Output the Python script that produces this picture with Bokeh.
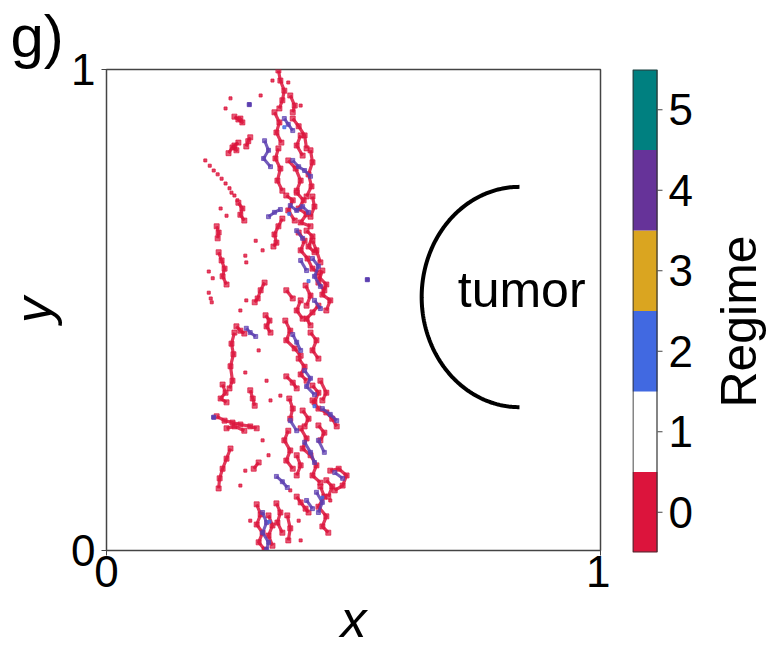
import numpy as np
from bokeh.plotting import figure
from bokeh.layouts import row
from bokeh.models import Range1d, FixedTicker, ColumnDataSource
from bokeh.core.properties import value
from bokeh.embed import file_html
from bokeh.resources import INLINE

FONT = "Liberation Sans"

# ---------------- data ----------------
# regime 0 (red) streaks: each entry one connected streak of cells
red_xs = [
    [0.348, 0.352, 0.360, 0.356, 0.350], [0.340, 0.350, 0.344, 0.354],
    [0.348, 0.342, 0.352, 0.346, 0.356], [0.377, 0.389, 0.401, 0.405],
    [0.413, 0.417, 0.409, 0.415, 0.405], [0.368, 0.383, 0.393, 0.385],
    [0.259, 0.267, 0.275, 0.271], [0.247, 0.255, 0.263, 0.259, 0.267],
    [0.283, 0.287, 0.291], [0.267, 0.275, 0.271, 0.279],
    [0.223, 0.227, 0.225], [0.356, 0.348, 0.340, 0.344, 0.338],
    [0.385, 0.399, 0.389, 0.405, 0.393, 0.413], [0.417, 0.421, 0.413],
    [0.389, 0.401, 0.393, 0.407, 0.417, 0.429], [0.417, 0.425, 0.433],
    [0.429, 0.445, 0.437, 0.453, 0.445], [0.403, 0.413, 0.405],
    [0.227, 0.233, 0.239, 0.235, 0.243], [0.320, 0.312, 0.306, 0.300],
    [0.322, 0.330, 0.324, 0.332], [0.263, 0.271, 0.279],
    [0.429, 0.417, 0.405, 0.413], [0.362, 0.372, 0.364, 0.381, 0.393],
    [0.389, 0.401, 0.393, 0.405], [0.364, 0.377, 0.385],
    [0.259, 0.253, 0.257, 0.251, 0.255, 0.249], [0.235, 0.241, 0.231, 0.243],
    [0.223, 0.239, 0.255, 0.271, 0.291, 0.304], [0.291, 0.296, 0.300],
    [0.417, 0.429, 0.445, 0.457, 0.466], [0.370, 0.377, 0.372],
    [0.433, 0.445, 0.437], [0.243, 0.259, 0.279],
    [0.368, 0.360, 0.372, 0.364, 0.377], [0.393, 0.405, 0.397, 0.413, 0.425, 0.417, 0.433],
    [0.453, 0.470, 0.486, 0.478, 0.462], [0.251, 0.243, 0.235, 0.229, 0.227],
    [0.298, 0.308], [0.385, 0.393, 0.403, 0.409],
    [0.433, 0.441, 0.429, 0.445, 0.437, 0.449], [0.304, 0.312, 0.304, 0.316, 0.308, 0.320],
    [0.344, 0.352, 0.346, 0.356], [0.366, 0.372, 0.368],
    [0.393, 0.385, 0.397], [0.364, 0.377, 0.368, 0.381],
    [0.405, 0.417, 0.409, 0.421], [0.437, 0.429, 0.441],
    [0.393, 0.385, 0.397], [0.413, 0.425, 0.417, 0.429],
    [0.417, 0.429, 0.421], [0.397, 0.409, 0.401],
    [0.429, 0.441, 0.433], [0.385, 0.393, 0.385],
    [0.445, 0.457, 0.449], [0.328, 0.336, 0.328, 0.336],
    [0.364, 0.377], [0.372, 0.381, 0.377],
]
red_ys = [
    [0.998, 0.977, 0.956, 0.936, 0.919], [0.911, 0.890, 0.869, 0.848],
    [0.836, 0.815, 0.794, 0.769, 0.748], [0.898, 0.882, 0.863, 0.836],
    [0.832, 0.807, 0.782, 0.757, 0.736], [0.811, 0.794, 0.769, 0.748],
    [0.902, 0.896, 0.890, 0.898], [0.826, 0.838, 0.832, 0.842, 0.848],
    [0.840, 0.851, 0.859], [0.723, 0.711, 0.698, 0.686],
    [0.674, 0.661, 0.649], [0.690, 0.674, 0.657, 0.640, 0.632],
    [0.744, 0.728, 0.711, 0.699, 0.682, 0.674], [0.736, 0.715, 0.694],
    [0.661, 0.644, 0.624, 0.607, 0.586, 0.578], [0.644, 0.624, 0.599],
    [0.570, 0.553, 0.532, 0.520, 0.499], [0.551, 0.530, 0.509],
    [0.620, 0.603, 0.586, 0.570, 0.553], [0.557, 0.541, 0.524, 0.516],
    [0.489, 0.478, 0.466, 0.453], [0.466, 0.457, 0.451],
    [0.509, 0.495, 0.482, 0.468], [0.478, 0.457, 0.437, 0.420, 0.405],
    [0.399, 0.382, 0.366, 0.353], [0.362, 0.349, 0.337],
    [0.453, 0.430, 0.408, 0.383, 0.353, 0.337], [0.345, 0.328, 0.316, 0.308],
    [0.279, 0.270, 0.266, 0.262, 0.258, 0.254], [0.333, 0.316, 0.301],
    [0.312, 0.295, 0.287, 0.274, 0.258], [0.316, 0.295, 0.274],
    [0.353, 0.328, 0.312], [0.254, 0.258, 0.249],
    [0.249, 0.229, 0.208, 0.187, 0.170], [0.254, 0.233, 0.212, 0.198, 0.177, 0.156, 0.141],
    [0.166, 0.170, 0.156, 0.135, 0.125], [0.212, 0.191, 0.170, 0.150, 0.129],
    [0.170, 0.183], [0.112, 0.100, 0.087, 0.079],
    [0.133, 0.112, 0.091, 0.071, 0.050, 0.037], [0.096, 0.075, 0.054, 0.037, 0.017, 0.002],
    [0.098, 0.079, 0.058, 0.037], [0.073, 0.046, 0.021],
    [0.863, 0.842, 0.821], [0.738, 0.728, 0.707, 0.686],
    [0.665, 0.653, 0.632, 0.620], [0.582, 0.557, 0.541],
    [0.520, 0.499, 0.482], [0.453, 0.437, 0.416, 0.399],
    [0.343, 0.328, 0.308], [0.291, 0.274, 0.258],
    [0.260, 0.245, 0.229], [0.198, 0.177, 0.156],
    [0.146, 0.133, 0.112], [0.073, 0.052, 0.031, 0.010],
    [0.541, 0.524], [0.946, 0.925, 0.911],
]
# isolated regime-0 cells
red_dot_x = [0.200, 0.209, 0.217, 0.225, 0.233, 0.241, 0.249, 0.253, 0.259, 0.265,
             0.251, 0.241, 0.336, 0.368, 0.312, 0.393, 0.231, 0.243, 0.302, 0.316,
             0.283, 0.271, 0.308, 0.281, 0.324, 0.332, 0.352, 0.316, 0.328, 0.281,
             0.271, 0.291, 0.389, 0.393, 0.453, 0.372, 0.281, 0.283, 0.207, 0.211,
             0.213, 0.207, 0.215]
red_dot_y = [0.811, 0.800, 0.790, 0.782, 0.773, 0.763, 0.753, 0.744, 0.738, 0.728,
             0.940, 0.919, 0.977, 0.973, 0.946, 0.925, 0.711, 0.696, 0.644, 0.624,
             0.520, 0.499, 0.416, 0.370, 0.353, 0.312, 0.322, 0.229, 0.198, 0.166,
             0.135, 0.062, 0.062, 0.021, 0.104, 0.125, 0.613, 0.599, 0.536, 0.524,
             0.516, 0.580, 0.566]

# regime 4 (purple) streaks
purple_xs = [
    [0.320, 0.328, 0.318, 0.332], [0.360, 0.368, 0.377], [0.377, 0.389, 0.401, 0.413],
    [0.328, 0.340, 0.352], [0.372, 0.385, 0.397, 0.409], [0.417, 0.429, 0.421, 0.433],
    [0.283, 0.291, 0.302], [0.401, 0.413, 0.405, 0.421], [0.377, 0.385, 0.393],
    [0.437, 0.453, 0.466], [0.401, 0.413, 0.421], [0.344, 0.356, 0.366],
    [0.425, 0.437, 0.429], [0.316, 0.324, 0.316, 0.328, 0.324], [0.462, 0.478],
    [0.393, 0.405], [0.429, 0.441], [0.385, 0.397], [0.421, 0.433],
    [0.372, 0.385], [0.405, 0.417],
]
purple_ys = [
    [0.852, 0.832, 0.815, 0.798], [0.898, 0.886, 0.873], [0.811, 0.798, 0.790, 0.778],
    [0.694, 0.703, 0.709], [0.717, 0.707, 0.715, 0.703], [0.607, 0.591, 0.570, 0.549],
    [0.462, 0.453, 0.445], [0.374, 0.358, 0.341, 0.324], [0.449, 0.433, 0.416],
    [0.295, 0.283, 0.270], [0.225, 0.204, 0.183], [0.154, 0.143, 0.131],
    [0.121, 0.100, 0.079], [0.079, 0.058, 0.037, 0.017, 0.002], [0.162, 0.150],
    [0.603, 0.582], [0.229, 0.204], [0.665, 0.649], [0.520, 0.503],
    [0.270, 0.249], [0.104, 0.087],
]
purple_dot_x = [0.289, 0.528, 0.217]
purple_dot_y = [0.927, 0.563, 0.277]

# regime 2 (blue) cells
blue_dot_x = [0.370, 0.421, 0.330, 0.409, 0.437, 0.360]
blue_dot_y = [0.700, 0.300, 0.060, 0.560, 0.110, 0.880]

# tumor boundary (half ellipse, left side)
tumor_cx, tumor_cy = 0.836, 0.527
tumor_rx, tumor_ry = 0.198, 0.229

# colour bar
regimes = [0, 1, 2, 3, 4, 5]
regime_labels = ["0", "1", "2", "3", "4", "5"]
regime_colors = ["#DC143C", "#FFFFFF", "#4169E1", "#DAA520", "#663399", "#008080"]

RED = regime_colors[0]
PURPLE = "#5c3fb0"
BLUE = regime_colors[2]

# ---------------- main panel ----------------
p = figure(width=610, height=665, output_backend="svg", toolbar_location=None,
           x_range=Range1d(0, 1), y_range=Range1d(0, 1),
           min_border_left=106, min_border_right=10, min_border_top=69, min_border_bottom=115)
p.frame_width = 494
p.frame_height = 481
p.grid.visible = False
p.outline_line_color = "#444444"
p.outline_line_width = 1.5
p.background_fill_color = "white"
p.border_fill_color = "white"

p.title.text = "g)"
p.title.align = "left"
p.title.offset = -96
p.title.standoff = 0
p.title.text_font = FONT
p.title.text_font_size = "60px"
p.title.text_font_style = "normal"
p.title.text_color = "black"

for ax in (p.xaxis[0], p.yaxis[0]):
    ax.ticker = FixedTicker(ticks=[0, 1])
    ax.major_tick_out = 5
    ax.major_tick_in = 0
    ax.minor_tick_line_color = None
    ax.axis_line_color = "#444444"
    ax.major_tick_line_color = "#444444"
    ax.major_label_text_font = FONT
    ax.major_label_text_font_size = "44px"
    ax.major_label_text_color = "black"
    ax.axis_label_text_font = FONT
    ax.axis_label_text_font_size = "52px"
    ax.axis_label_text_font_style = "italic"
    ax.axis_label_text_color = "black"
p.xaxis.axis_label = "x"
p.yaxis.axis_label = "y"
p.xaxis.major_label_standoff = 0
p.xaxis.axis_label_standoff = 0
p.yaxis.major_label_standoff = 6
p.yaxis.axis_label_standoff = 6

p.multi_line(xs=red_xs, ys=red_ys, line_color=RED, line_width=3.2, line_alpha=0.85,
             line_join="round")
red_vx = [v for s in red_xs for v in s]
red_vy = [v for s in red_ys for v in s]
p.scatter(red_vx, red_vy, marker="square", size=5, color=RED, alpha=0.7)
p.scatter(red_dot_x, red_dot_y, marker="square", size=3, color=RED, alpha=0.8)
p.multi_line(xs=purple_xs, ys=purple_ys, line_color=PURPLE, line_width=3, line_alpha=0.85,
             line_join="round")
pur_vx = [v for s in purple_xs for v in s]
pur_vy = [v for s in purple_ys for v in s]
p.scatter(pur_vx, pur_vy, marker="square", size=4, color=PURPLE, alpha=0.7)
p.scatter(purple_dot_x, purple_dot_y, marker="square", size=4, color=PURPLE)
p.scatter(blue_dot_x, blue_dot_y, marker="square", size=3, color=BLUE, alpha=0.8)

theta = np.linspace(np.pi / 2, 3 * np.pi / 2, 200)
p.line(tumor_cx + tumor_rx * np.cos(theta), tumor_cy + tumor_ry * np.sin(theta),
       line_color="black", line_width=4)
p.text(x=[0.711], y=[0.541], text=["tumor"], text_font=value(FONT), text_font_size="50px",
       text_color="black", text_baseline="alphabetic", text_align="left")

# ---------------- colour bar (drawn inside a wide frame) ----------------
CBW = 25.0  # px per colour-bar x unit
cb = figure(width=164, height=665, output_backend="svg", toolbar_location=None,
            x_range=Range1d(0, 142 / CBW), y_range=Range1d(-0.5, 5.5),
            x_axis_location=None, y_axis_location=None,
            min_border_left=22, min_border_right=0, min_border_top=67, min_border_bottom=115)
cb.frame_width = 142
cb.frame_height = 483
cb.grid.visible = False
cb.outline_line_color = None
src = ColumnDataSource(dict(bottom=[r - 0.5 for r in regimes], top=[r + 0.5 for r in regimes],
                            color=regime_colors, y=regimes, label=regime_labels))
cb.quad(left=0, right=1, bottom="bottom", top="top", fill_color="color", line_color=None,
        source=src)
cb.quad(left=[0.02], right=[0.98], bottom=[-0.495], top=[5.495], fill_color=None,
        line_color="#333333", line_width=1.2)
cb.segment(x0=1, y0="y", x1=1 + 5 / CBW, y1="y", line_color="#444444", line_width=1,
           source=src)
cb.text(x=1 + 11 / CBW, y="y", text="label", text_font=value(FONT), text_font_size="44px",
        text_color="black", text_baseline="middle", text_align="left", source=src)
cb.text(x=[4.24], y=[2.37], text=["Regime"], text_font=value(FONT), text_font_size="50px",
        text_color="black", angle=np.pi / 2, text_baseline="middle", text_align="center")

layout = row(p, cb, spacing=0)
open("out.html", "w").write(file_html(layout, INLINE))
